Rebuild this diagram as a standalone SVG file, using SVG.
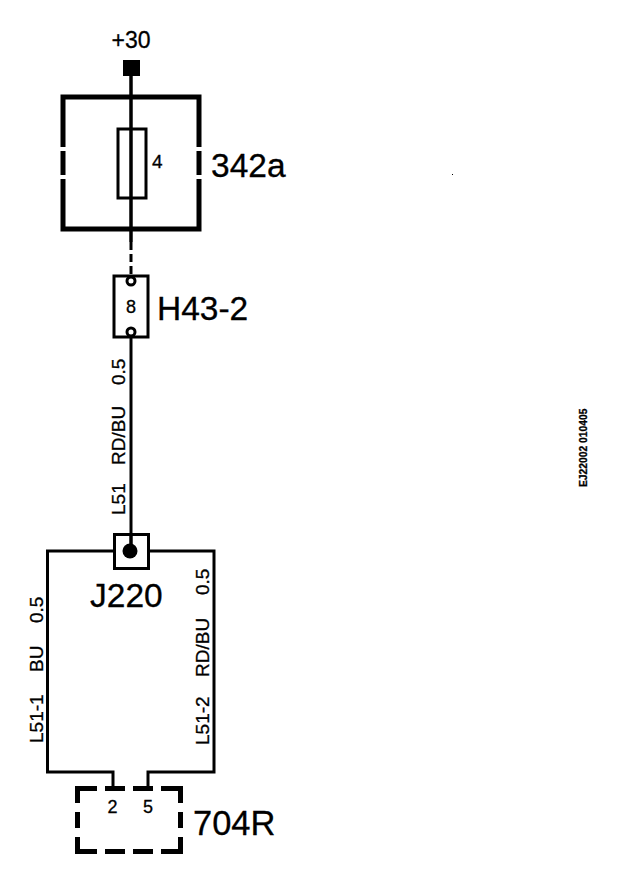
<svg xmlns="http://www.w3.org/2000/svg" width="640" height="880" viewBox="0 0 640 880">
<style>
text{font-family:"Liberation Sans",Arial,sans-serif;fill:#000;stroke:#000;stroke-width:.3}
.b{fill:none;stroke:#000;stroke-width:5}
.m{fill:none;stroke:#000;stroke-width:3}
.w{fill:none;stroke:#000;stroke-width:3}
.t27{font-size:33.500px}
.t20{font-size:23px}
.t16{font-size:19px}
.t14{font-size:19px}
</style>
<rect width="640" height="880" fill="#fff"/>
<g id="connectors">
<path class="w" d="M131 76V242"/>
<path class="w" d="M131 242V275" stroke-dasharray="8 4"/>
<path class="w" d="M131 338V551"/>
</g>
<g id="terminal-30">
<rect x="123" y="60" width="17" height="16" fill="#000"/>
<text class="t20" x="131" y="48" text-anchor="middle">+30</text>
</g>
<g id="node-342a">
<path class="b" d="M63 147V97H199V147M63 151V175M199 151V175M63 179V229H199V179"/>
<rect class="m" x="118" y="129" width="28" height="69"/>
<path class="w" d="M131 76V242"/>
<text class="t14" x="152" y="168">4</text>
<text class="t27" x="211" y="177">342a</text>
</g>
<g id="node-H43-2">
<rect class="m" x="114" y="276" width="34" height="61" fill="#fff"/>
<circle class="m" cx="131" cy="281" r="4" fill="#fff"/>
<circle class="m" cx="131" cy="332" r="4" fill="#fff"/>
<text class="t14" x="131" y="313" text-anchor="middle" style="font-size:18px">8</text>
<text class="t27" x="157" y="320">H43-2</text>
</g>
<g id="wire-L51">
<text class="t16" transform="translate(125 515) rotate(-90)">L51</text>
<text class="t16" transform="translate(125 465) rotate(-90)">RD/BU</text>
<text class="t16" transform="translate(125 385) rotate(-90)">0.5</text>
</g>
<g id="node-J220">
<path class="m" d="M113 551H47.500V772H113V787M148 787V772H214V551H149"/>
<rect class="m" x="114.500" y="534.500" width="34" height="34" fill="none"/>
<path class="w" d="M131 534V551"/>
<circle cx="130" cy="551" r="7.500" fill="#000"/>
<text class="t27" x="90" y="607">J220</text>
<text class="t16" transform="translate(43 743) rotate(-90)">L51-1</text>
<text class="t16" transform="translate(43 672) rotate(-90)">BU</text>
<text class="t16" transform="translate(43 623) rotate(-90)">0.5</text>
<text class="t16" transform="translate(209 745) rotate(-90)">L51-2</text>
<text class="t16" transform="translate(209 677) rotate(-90)">RD/BU</text>
<text class="t16" transform="translate(209 595) rotate(-90)">0.5</text>
</g>
<g id="node-704R">
<path class="b" d="M77.500 803V788.500H97M105 788.500H125M133 788.500H153M161 788.500H180.500V803M77.500 812V828M180.500 812V828M77.500 837V851.500H97M105 851.500H125M133 851.500H153M161 851.500H180.500V837"/>
<text class="t14" x="112.500" y="813" text-anchor="middle" style="font-size:18px">2</text>
<text class="t14" x="148" y="813" text-anchor="middle" style="font-size:18px">5</text>
<text class="t27" x="193" y="835" style="font-size:34.500px">704R</text>
</g>
<g id="annotations">
<text transform="translate(587 487) rotate(-90)" style="font-size:10.300px;font-weight:bold">EJ22002  010405</text>
<rect x="452" y="174" width="1" height="1" fill="#000"/>
</g>
</svg>
